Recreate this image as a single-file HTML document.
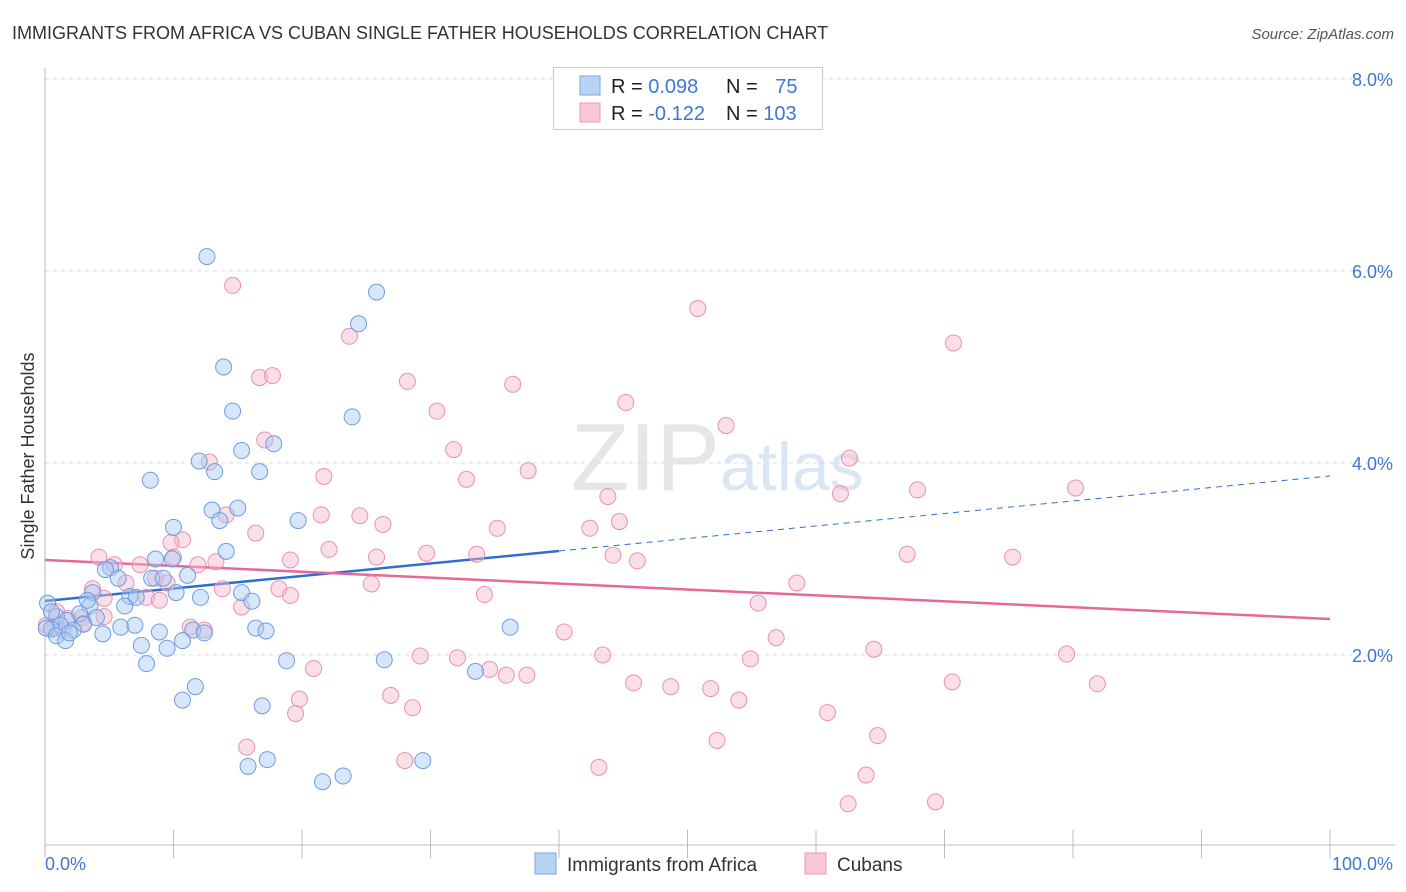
<!DOCTYPE html>
<html><head><meta charset="utf-8"><style>
body{margin:0;background:#fff;font-family:"Liberation Sans",sans-serif;}
#wrap{position:relative;width:1406px;height:892px;overflow:hidden;}
svg text{font-family:"Liberation Sans",sans-serif;}
</style></head><body>
<div id="wrap">
<svg id="chart" width="1406" height="892">
<text x="12" y="39" font-size="18" fill="#333">IMMIGRANTS FROM AFRICA VS CUBAN SINGLE FATHER HOUSEHOLDS CORRELATION CHART</text>
<text x="1394" y="39" font-size="15" fill="#555" text-anchor="end" font-style="italic">Source: ZipAtlas.com</text>
<text x="720" y="490" font-size="96" fill="#e6e6e6" text-anchor="end" font-family="Liberation Serif">ZIP</text>
<text x="720" y="490" font-size="68" fill="#dbe6f5">atlas</text>
<text transform="translate(34,456) rotate(-90)" font-size="18" fill="#333" text-anchor="middle">Single Father Households</text>
<g id="grid"></g><g id="axes"></g><g id="trend"></g><g id="pts"></g>
<g>
<rect x="553.5" y="67.5" width="269" height="62" fill="#fff" stroke="#ccc"/>
<rect x="580" y="76" width="20" height="19" fill="#b9d3f5" stroke="#7aa6e6"/>
<rect x="580" y="103" width="20" height="19" fill="#f9c6d6" stroke="#ec9ab6"/>
<text x="611" y="93" font-size="20" fill="#222">R = <tspan fill="#3f78d1">0.098</tspan></text>
<text x="726" y="93" font-size="20" fill="#222">N = <tspan fill="#3f78d1" dx="12">75</tspan></text>
<text x="611" y="120" font-size="20" fill="#222">R = <tspan fill="#3f78d1">-0.122</tspan></text>
<text x="726" y="120" font-size="20" fill="#222">N = <tspan fill="#3f78d1">103</tspan></text>
</g>
<rect x="535" y="853" width="21" height="21" fill="#b9d3f5" stroke="#7aa6e6"/>
<text x="567" y="871" font-size="19" fill="#333">Immigrants from Africa</text>
<rect x="805" y="853" width="21" height="21" fill="#f9c6d6" stroke="#ec9ab6"/>
<text x="837" y="871" font-size="19" fill="#333">Cubans</text>
</svg>
</div>
<script>
const yTicks=[2,4,6,8];
const yTickLabels=["2.0%","4.0%","6.0%","8.0%"];
const xTickLabels=["0.0%","100.0%"];
const blueX=[12.6,25.8,24.4,13.9,14.6,23.9,15.3,17.8,12.0,13.2,16.7,8.2,15.0,13.0,13.6,19.7,10.0,14.1,8.6,9.9,5.1,4.7,5.7,8.3,9.2,11.1,3.7,6.6,7.1,10.2,12.1,15.3,16.1,6.2,3.5,0.2,0.9,2.7,4.0,3.0,1.7,1.2,2.2,0.5,0.1,0.9,1.6,1.9,4.5,5.9,7.0,8.9,11.5,12.4,10.7,7.5,9.5,16.4,17.2,36.2,7.9,18.8,26.4,33.5,11.7,10.7,16.9,15.8,17.3,21.6,23.2,29.4,0.5,3.3];
const blueY=[6.15,5.78,5.45,5.00,4.54,4.48,4.13,4.20,4.02,3.91,3.91,3.82,3.53,3.51,3.40,3.40,3.33,3.08,3.00,3.00,2.91,2.89,2.80,2.80,2.80,2.83,2.65,2.61,2.60,2.65,2.60,2.65,2.56,2.51,2.51,2.54,2.40,2.43,2.39,2.32,2.36,2.31,2.26,2.27,2.28,2.20,2.15,2.23,2.22,2.29,2.31,2.24,2.26,2.23,2.15,2.10,2.07,2.28,2.25,2.29,1.91,1.94,1.95,1.83,1.67,1.53,1.47,0.84,0.91,0.68,0.74,0.90,2.45,2.57];
const pinkX=[14.6,50.8,23.7,70.7,16.7,17.7,28.2,36.4,45.2,30.5,53.0,17.1,31.8,12.8,62.6,21.7,32.8,37.6,61.9,67.9,80.2,43.8,44.7,14.1,21.5,24.5,26.3,35.2,42.4,16.4,10.7,9.8,22.1,29.7,33.6,44.2,46.1,67.1,75.3,4.2,5.4,7.4,10.0,13.3,19.1,25.8,58.5,6.3,8.6,9.5,11.9,13.8,18.2,25.4,3.7,4.6,7.9,8.9,15.3,34.2,55.5,0.9,1.8,2.9,4.6,0.5,0.1,1.4,11.3,12.4,40.4,56.9,64.5,43.4,54.9,79.5,29.2,32.1,20.9,34.6,35.9,37.5,45.8,48.7,51.8,70.6,81.9,54.0,19.8,26.9,28.6,19.5,60.9,15.7,52.3,64.8,28.0,43.1,63.9,62.5,69.3,19.1,3.0];
const pinkY=[5.85,5.61,5.32,5.25,4.89,4.91,4.85,4.82,4.63,4.54,4.39,4.24,4.14,4.01,4.05,3.86,3.83,3.92,3.68,3.72,3.74,3.65,3.39,3.46,3.46,3.45,3.36,3.32,3.32,3.27,3.20,3.17,3.10,3.06,3.05,3.04,2.98,3.05,3.02,3.02,2.94,2.94,3.02,2.97,2.99,3.02,2.75,2.75,2.80,2.75,2.94,2.69,2.69,2.74,2.69,2.59,2.60,2.57,2.50,2.63,2.54,2.45,2.38,2.39,2.40,2.28,2.31,2.26,2.29,2.26,2.24,2.18,2.06,2.00,1.96,2.01,1.99,1.97,1.86,1.85,1.79,1.79,1.71,1.67,1.65,1.72,1.70,1.53,1.54,1.58,1.45,1.39,1.40,1.04,1.11,1.16,0.90,0.83,0.75,0.45,0.47,2.62,2.33];
const blueTrend=[2.5625,3.865];
const pinkTrend=[2.99,2.375];
const NS="http://www.w3.org/2000/svg";
function sx(v){return 45+v*12.85;}
function sy(v){return 847-v*96;}
function mk(tag,attrs,parent){const e=document.createElementNS(NS,tag);for(const k in attrs)e.setAttribute(k,attrs[k]);parent.appendChild(e);return e;}
const grid=document.getElementById('grid'),axes=document.getElementById('axes'),trend=document.getElementById('trend'),pts=document.getElementById('pts');
yTicks.forEach((t,i)=>{
 const l=mk('line',{x1:45,x2:1395,y1:sy(t),y2:sy(t),stroke:'#ddd','stroke-dasharray':'4,4'},grid);
 
 
 const tx=mk('text',{x:1393,y:sy(t)+7,'font-size':18,fill:'#3f78d1','text-anchor':'end'},grid);
 tx.textContent=yTickLabels[i];
 
 
});
const ax=mk('line',{x1:45,x2:45,y1:68,y2:845,stroke:'#bbb'},axes);


const bx=mk('line',{x1:45,x2:1395,y1:845,y2:845,stroke:'#bbb'},axes);


for(let i=0;i<=10;i++){
 const tk=mk('line',{x1:sx(i*10),x2:sx(i*10),y1:830,y2:858,stroke:'#bbb'},axes);
 
 
}
const xl0=mk('text',{x:45,y:870,'font-size':18,fill:'#3f78d1'},axes);xl0.textContent=xTickLabels[0];


const xl1=mk('text',{x:1393,y:870,'font-size':18,fill:'#3f78d1','text-anchor':'end'},axes);xl1.textContent=xTickLabels[1];


function drawPts(X,Y,fill,stroke,name){
 X.forEach((x,i)=>{
  const c=mk('circle',{cx:sx(x),cy:sy(Y[i]),r:8,fill:fill,'fill-opacity':0.45,stroke:stroke,'stroke-width':1},pts);
  
  
 });
}
drawPts(pinkX,pinkY,'#f7b9cd','#ea90b0','point-cubans');
drawPts(blueX,blueY,'#a9c8f2','#6e9ddf','point-africa');
const bAt=x=>blueTrend[0]+(blueTrend[1]-blueTrend[0])*x/100;
const t1=mk('line',{x1:sx(0),y1:sy(bAt(0)),x2:sx(40),y2:sy(bAt(40)),stroke:'#2f6fd0','stroke-width':2.5},trend);


const t2=mk('line',{x1:sx(40),y1:sy(bAt(40)),x2:sx(100),y2:sy(bAt(100)),stroke:'#2f6fd0','stroke-width':1,'stroke-dasharray':'6,5'},trend);


const t3=mk('line',{x1:sx(0),y1:sy(pinkTrend[0]),x2:sx(100),y2:sy(pinkTrend[1]),stroke:'#e7679a','stroke-width':2.5},trend);


</script>
</body></html>
